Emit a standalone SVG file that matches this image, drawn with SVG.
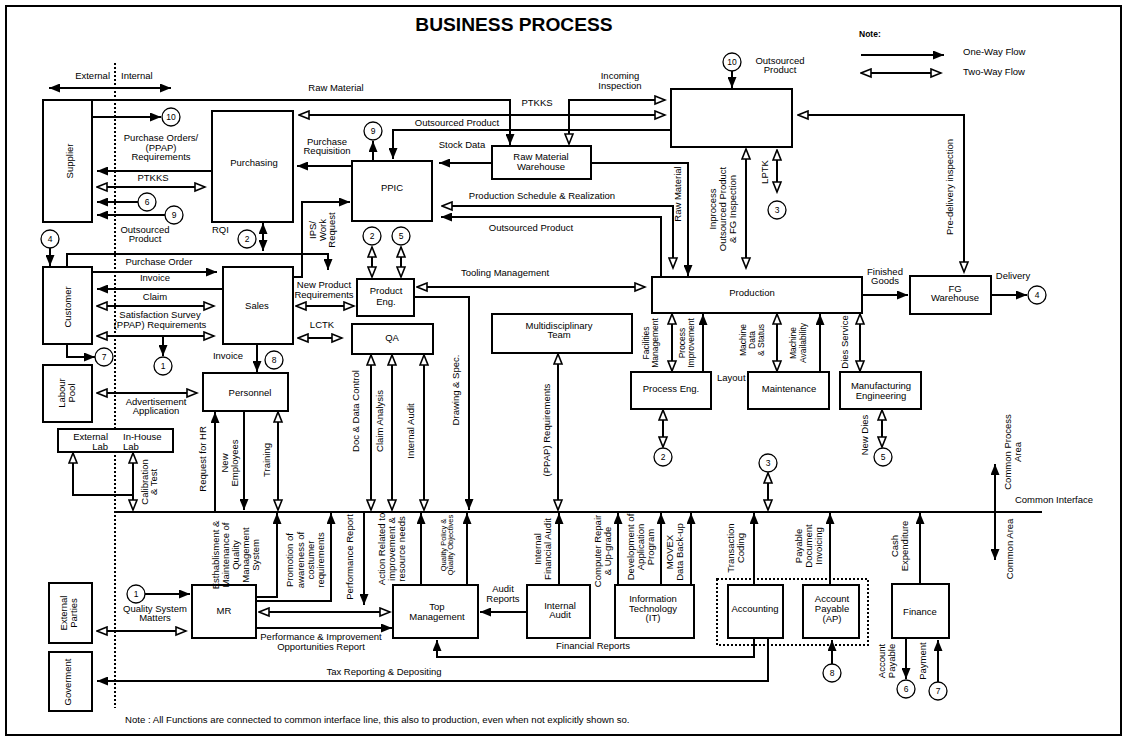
<svg xmlns="http://www.w3.org/2000/svg" width="1128" height="736" viewBox="0 0 1128 736">
<style>
.box{fill:#fff;stroke:#000;stroke-width:2}
.ln{fill:none;stroke:#000;stroke-width:2}
.cir{fill:#fff;stroke:#000;stroke-width:1.3}
.t{font-family:"Liberation Sans",Arial,sans-serif;font-size:9.5px;text-anchor:middle;fill:#000}
.ts{font-family:"Liberation Sans",Arial,sans-serif;font-size:8.5px;text-anchor:middle;fill:#000}
.tq{font-family:"Liberation Sans",Arial,sans-serif;font-size:7.5px;text-anchor:middle;fill:#000}
.tl{text-anchor:start}
.tr{text-anchor:end}
.ct{font-family:"Liberation Sans",Arial,sans-serif;font-size:8.5px;text-anchor:middle}
.f{marker-end:url(#af)}
.o{marker-start:url(#ao);marker-end:url(#ao)}
.ff{marker-start:url(#af);marker-end:url(#af)}
</style>
<defs>
<marker id="af" viewBox="0 0 11 9" refX="11" refY="4.5" markerWidth="11" markerHeight="9" orient="auto-start-reverse" markerUnits="userSpaceOnUse"><path d="M0,0 L11,4.5 L0,9 z" fill="#000"/></marker>
<marker id="ao" viewBox="-1 -1 13 11" refX="10.5" refY="4.5" markerWidth="13" markerHeight="11" orient="auto-start-reverse" markerUnits="userSpaceOnUse"><path d="M0.5,0.5 L10.5,4.5 L0.5,8.5 z" fill="#fff" stroke="#000" stroke-width="1.6"/></marker>
</defs>
<rect x="0" y="0" width="1128" height="736" fill="#fff"/>
<rect x="6" y="6" width="1115" height="729" fill="none" stroke="#000" stroke-width="2"/>
<text x="514" y="31" style="font-family:'Liberation Sans',Arial,sans-serif;font-size:19.2px;font-weight:bold;text-anchor:middle">BUSINESS PROCESS</text>

<g id="legend">
<text x="859" y="37" style="font-family:'Liberation Sans',Arial,sans-serif;font-size:8.5px;font-weight:bold">Note:</text>
<path class="ln f" d="M861,55 H944"/>
<path class="ln o" d="M861,73 H941"/>
<text class="t tl" x="963" y="55">One-Way Flow</text>
<text class="t tl" x="963" y="75">Two-Way Flow</text>
</g>

<path d="M115,63 V708" fill="none" stroke="#000" stroke-width="2" stroke-dasharray="2,2"/>
<rect x="717" y="579" width="151" height="66" fill="none" stroke="#000" stroke-width="2" stroke-dasharray="2,2"/>

<g id="nodes">
<g id="inspection"><rect class="box" x="671" y="89" width="121" height="58"/></g>
<g id="supplier"><rect class="box" x="43" y="100" width="49" height="122"/><text class="t" transform="translate(73.3,161) rotate(-90)">Supplier</text></g>
<g id="purchasing"><rect class="box" x="212" y="111" width="81" height="111"/><text class="t" x="254" y="166">Purchasing</text></g>
<g id="ppic"><rect class="box" x="352" y="161" width="80" height="60"/><text class="t" x="392" y="191">PPIC</text></g>
<g id="rmw"><rect class="box" x="492" y="146" width="99" height="33"/><text class="t" x="541" y="160">Raw Material</text><text class="t" x="541" y="170">Warehouse</text></g>
<g id="customer"><rect class="box" x="43" y="267" width="49" height="77"/><text class="t" transform="translate(71.3,307) rotate(-90)">Customer</text></g>
<g id="sales"><rect class="box" x="223" y="267" width="70" height="77"/><text class="t" x="257" y="309">Sales</text></g>
<g id="producteng"><rect class="box" x="357" y="279" width="57" height="37"/><text class="t" x="386" y="294">Product</text><text class="t" x="386" y="304.5">Eng.</text></g>
<g id="qa"><rect class="box" x="352" y="324" width="81" height="30"/><text class="t" x="392" y="341">QA</text></g>
<g id="production"><rect class="box" x="652" y="277" width="210" height="36"/><text class="t" x="752" y="296">Production</text></g>
<g id="fgwarehouse"><rect class="box" x="910" y="276" width="81" height="38"/><text class="t" x="955" y="292">FG</text><text class="t" x="955" y="301">Warehouse</text></g>
<g id="multidisciplinary"><rect class="box" x="492" y="314" width="140" height="39"/><text class="t" x="559" y="329">Multidisciplinary</text><text class="t" x="559" y="338">Team</text></g>
<g id="processeng"><rect class="box" x="631" y="372" width="80" height="37"/><text class="t" x="671" y="392">Process Eng.</text></g>
<g id="maintenance"><rect class="box" x="748" y="372" width="81" height="37"/><text class="t" x="789" y="392">Maintenance</text></g>
<g id="mfgeng"><rect class="box" x="840" y="372" width="81" height="37"/><text class="t" x="881" y="389">Manufacturing</text><text class="t" x="881" y="399">Engineering</text></g>
<g id="labourpool"><rect class="box" x="43" y="365" width="49" height="57"/><text class="t" transform="translate(65.3,393) rotate(-90)"><tspan x="0" y="0">Labour</tspan><tspan x="0" y="10">Pool</tspan></text></g>
<g id="personnel"><rect class="box" x="203" y="373" width="85" height="38"/><text class="t" x="250" y="396">Personnel</text></g>
<g id="lab"><rect class="box" x="58" y="429" width="115" height="23"/><text class="t tr" x="108" y="440">External</text><text class="t tr" x="108" y="450">Lab</text><text class="t tl" x="123" y="440">In-House</text><text class="t tl" x="123" y="450">Lab</text></g>
<g id="externalparties"><rect class="box" x="49" y="583" width="43" height="60"/><text class="t" transform="translate(67.3,613) rotate(-90)"><tspan x="0" y="0">External</tspan><tspan x="0" y="10">Parties</tspan></text></g>
<g id="goverment"><rect class="box" x="49" y="652" width="43" height="59"/><text class="t" transform="translate(71.3,682) rotate(-90)">Goverment</text></g>
<g id="mr"><rect class="box" x="192" y="585" width="64" height="53"/><text class="t" x="224" y="614">MR</text></g>
<g id="topmgmt"><rect class="box" x="393" y="585" width="85" height="53"/><text class="t" x="437" y="610">Top</text><text class="t" x="437" y="619.5">Management</text></g>
<g id="internalaudit"><rect class="box" x="527" y="585" width="63" height="53"/><text class="t" x="560" y="609">Internal</text><text class="t" x="560" y="618">Audit</text></g>
<g id="it"><rect class="box" x="615" y="585" width="79" height="53"/><text class="t" x="653" y="602">Information</text><text class="t" x="653" y="612">Technology</text><text class="t" x="653" y="621">(IT)</text></g>
<g id="accounting"><rect class="box" x="728" y="585" width="55" height="53"/><text class="t" x="755" y="612">Accounting</text></g>
<g id="ap"><rect class="box" x="803" y="585" width="56" height="53"/><text class="t" x="832" y="602">Account</text><text class="t" x="832" y="612">Payable</text><text class="t" x="832" y="622">(AP)</text></g>
<g id="finance"><rect class="box" x="892" y="584" width="57" height="54"/><text class="t" x="920" y="615">Finance</text></g>
</g>

<g id="connectors">
<path class="ln ff" d="M49,88 H171"/>
<path class="ln f" d="M92,100 H510 V145"/>
<path class="ln f" d="M92,117 H161"/>
<path class="ln f" d="M212,171 H97"/>
<path class="ln o" d="M97,187 H205"/>
<path class="ln f" d="M138,202 H97"/>
<path class="ln f" d="M165,215 H97"/>
<path class="ln o" d="M299,115 H665"/>
<path class="ln o" d="M569,144 V100 H665"/>
<path class="ln f" d="M671,130 H393 V159"/>
<path class="ln f" d="M732,71 V88"/>
<path class="ln o" d="M777,150 V192"/>
<path class="ln o" d="M746,149 V268"/>
<path class="ln o" d="M964,272 V115 H798"/>
<path class="ln f" d="M591,163 H688 V276"/>
<path class="ln o" d="M442,206 H673 V268"/>
<path class="ln f" d="M661,277 V217 H441"/>
<path class="ln f" d="M492,163 H439"/>
<path class="ln f" d="M373,161 V141"/>
<path class="ln f" d="M352,166 H297"/>
<path class="ln f" d="M293,277 H302 V202 H350"/>
<path class="ln ff" d="M263,223 V251"/>
<path class="ln o" d="M372,247 V277"/>
<path class="ln o" d="M401,247 V277"/>
<path class="ln f" d="M67,267 V254 H328 V270"/>
<path class="ln f" d="M50,248 V266"/>
<path class="ln f" d="M92,272 H217"/>
<path class="ln f" d="M223,289 H97"/>
<path class="ln o" d="M97,306 H214"/>
<path class="ln o" d="M97,336 H214"/>
<path class="ln f" d="M163,336 V356"/>
<path class="ln f" d="M67,344 V357 H95"/>
<path class="ln o" d="M296,306 H354"/>
<path class="ln o" d="M298,338 H342"/>
<path class="ln f" d="M257,344 V372"/>
<path class="ln o" d="M97,393 H197"/>
<path class="ln o" d="M133,453 V510"/>
<path class="ln" d="M73,453 V495 H133" style="marker-start:url(#ao)"/>
<path class="ln" d="M115,512 H1042"/>
<path class="ln ff" d="M995,464 V560"/>
<path class="ln f" d="M215,512 V412"/>
<path class="ln f" d="M244,411 V510"/>
<path class="ln o" d="M278,412 V510"/>
<path class="ln o" d="M371,355 V510"/>
<path class="ln o" d="M392,355 V510"/>
<path class="ln o" d="M424,355 V510"/>
<path class="ln f" d="M414,297 H469 V510"/>
<path class="ln o" d="M558,354 V510"/>
<path class="ln o" d="M417,287 H645"/>
<path class="ln o" d="M672,314 V371"/>
<path class="ln f" d="M703,372 V314"/>
<path class="ln o" d="M777,314 V371"/>
<path class="ln f" d="M820,372 V314"/>
<path class="ln o" d="M860,314 V371"/>
<path class="ln o" d="M663,410 V447"/>
<path class="ln o" d="M882,410 V447"/>
<path class="ln o" d="M768,473 V510"/>
<path class="ln f" d="M862,295 H908"/>
<path class="ln f" d="M991,295 H1027"/>
<path class="ln f" d="M145,594 H190"/>
<path class="ln o" d="M97,631 H186"/>
<path class="ln f" d="M256,597 H277 V513"/>
<path class="ln f" d="M256,601 H331 V513"/>
<path class="ln f" d="M364,512 V605"/>
<path class="ln o" d="M259,612 H390"/>
<path class="ln f" d="M256,628 H392"/>
<path class="ln f" d="M421,585 V513"/>
<path class="ln f" d="M467,585 V513"/>
<path class="ln f" d="M527,612 H480"/>
<path class="ln f" d="M559,585 V513"/>
<path class="ln f" d="M618,585 V513"/>
<path class="ln f" d="M661,585 V513"/>
<path class="ln f" d="M691,585 V513"/>
<path class="ln f" d="M754,585 V513"/>
<path class="ln f" d="M830,585 V513"/>
<path class="ln f" d="M920,584 V513"/>
<path class="ln f" d="M906,638 V679"/>
<path class="ln f" d="M938,682 V640"/>
<path class="ln f" d="M832,664 V640"/>
<path class="ln f" d="M754,638 V657 H437 V640"/>
<path class="ln f" d="M768,638 V681 H97"/>
</g>

<g id="circles">
<g><circle class="cir" cx="171" cy="117" r="9"/><text class="ct" x="171" y="120">10</text></g>
<g><circle class="cir" cx="732" cy="62" r="9"/><text class="ct" x="732" y="65">10</text></g>
<g><circle class="cir" cx="373" cy="131" r="9"/><text class="ct" x="373" y="134">9</text></g>
<g><circle class="cir" cx="174" cy="215" r="9"/><text class="ct" x="174" y="218">9</text></g>
<g><circle class="cir" cx="147" cy="202" r="9"/><text class="ct" x="147" y="205">6</text></g>
<g><circle class="cir" cx="906" cy="689" r="9"/><text class="ct" x="906" y="692">6</text></g>
<g><circle class="cir" cx="247" cy="239" r="9"/><text class="ct" x="247" y="242">2</text></g>
<g><circle class="cir" cx="372" cy="236" r="9"/><text class="ct" x="372" y="239">2</text></g>
<g><circle class="cir" cx="663" cy="457" r="9"/><text class="ct" x="663" y="460">2</text></g>
<g><circle class="cir" cx="401" cy="236" r="9"/><text class="ct" x="401" y="239">5</text></g>
<g><circle class="cir" cx="883" cy="457" r="9"/><text class="ct" x="883" y="460">5</text></g>
<g><circle class="cir" cx="50" cy="239" r="9"/><text class="ct" x="50" y="242">4</text></g>
<g><circle class="cir" cx="1037" cy="295" r="9"/><text class="ct" x="1037" y="298">4</text></g>
<g><circle class="cir" cx="163" cy="366" r="9"/><text class="ct" x="163" y="369">1</text></g>
<g><circle class="cir" cx="136" cy="594" r="9"/><text class="ct" x="136" y="597">1</text></g>
<g><circle class="cir" cx="104" cy="357" r="9"/><text class="ct" x="104" y="360">7</text></g>
<g><circle class="cir" cx="938" cy="691" r="9"/><text class="ct" x="938" y="694">7</text></g>
<g><circle class="cir" cx="274" cy="360" r="9"/><text class="ct" x="274" y="363">8</text></g>
<g><circle class="cir" cx="832" cy="673" r="9"/><text class="ct" x="832" y="676">8</text></g>
<g><circle class="cir" cx="777" cy="210" r="9"/><text class="ct" x="777" y="213">3</text></g>
<g><circle class="cir" cx="768" cy="463" r="9"/><text class="ct" x="768" y="466">3</text></g>
</g>

<g id="labels">
<text class="t" x="780" y="64">Outsourced</text><text class="t" x="780" y="73">Product</text>
<text class="t tr" x="110" y="79">External</text><text class="t tl" x="121" y="79">Internal</text>
<text class="t" x="336" y="91">Raw Material</text>
<text class="t" x="620" y="79">Incoming</text><text class="t" x="620" y="89">Inspection</text>
<text class="t" x="537" y="106">PTKKS</text>
<text class="t" x="457" y="126">Outsourced Product</text>
<text class="t" x="161" y="141">Purchase Orders/</text><text class="t" x="161" y="150.5">(PPAP)</text><text class="t" x="161" y="160">Requirements</text>
<text class="t" x="327" y="145">Purchase</text><text class="t" x="327" y="154">Requisition</text>
<text class="t" x="462" y="148">Stock Data</text>
<text class="t" x="542" y="199">Production Schedule &amp; Realization</text>
<text class="t" x="531" y="231">Outsourced Product</text>
<text class="t" x="153" y="181">PTKKS</text>
<text class="t" x="145" y="233">Outsourced</text><text class="t" x="145" y="242">Product</text>
<text class="t tl" x="212" y="233">RQI</text>
<text class="t" x="159" y="265">Purchase Order</text>
<text class="t" x="155" y="281">Invoice</text>
<text class="t" x="155" y="300">Claim</text>
<text class="t" x="160" y="318">Satisfaction Survey</text><text class="t" x="160" y="328">(PPAP) Requirements</text>
<text class="t" x="324" y="288">New Product</text><text class="t" x="324" y="298">Requirements</text>
<text class="t" x="322" y="328">LCTK</text>
<text class="t" x="505" y="276">Tooling Management</text>
<text class="t" x="885" y="275">Finished</text><text class="t" x="885" y="284">Goods</text>
<text class="t" x="1013" y="279">Delivery</text>
<text class="t" x="228" y="359">Invoice</text>
<text class="t" x="156" y="405">Advertisement</text><text class="t" x="156" y="414">Application</text>
<text class="t tl" x="717" y="381">Layout</text>
<text class="t" x="1054" y="503">Common Interface</text>
<text class="t" x="155" y="612">Quality System</text><text class="t" x="155" y="621">Matters</text>
<text class="t" x="321" y="640">Performance &amp; Improvement</text><text class="t" x="321" y="650">Opportunities Report</text>
<text class="t" x="503" y="592">Audit</text><text class="t" x="503" y="602">Reports</text>
<text class="t" x="593" y="649">Financial Reports</text>
<text class="t" x="384" y="675">Tax Reporting &amp; Depositing</text>
<text class="t tl" x="125" y="723" style="font-size:9.6px">Note : All Functions are connected to common interface line, this also to production, even when not explicitly shown so.</text>

<text class="t" transform="translate(768.3,172) rotate(-90)">LPTK</text>
<text class="t" transform="translate(716.3,209) rotate(-90)"><tspan x="0" y="0">Inprocess</tspan><tspan x="0" y="10">Outsourced Product</tspan><tspan x="0" y="20">&amp; FG Inspection</tspan></text>
<text class="t" transform="translate(681.3,194) rotate(-90)">Raw Material</text>
<text class="t" transform="translate(953.3,187) rotate(-90)">Pre-delivery inspection</text>
<text class="t" transform="translate(316.3,230) rotate(-90)"><tspan x="0" y="0">IPS/</tspan><tspan x="0" y="9.5">Work</tspan><tspan x="0" y="19">Request</tspan></text>
<text class="t" transform="translate(148.3,482) rotate(-90)"><tspan x="0" y="0">Calibration</tspan><tspan x="0" y="9">&amp; Test</tspan></text>
<text class="t" transform="translate(206.3,459) rotate(-90)">Request for HR</text>
<text class="t" transform="translate(228.3,463) rotate(-90)"><tspan x="0" y="0">New</tspan><tspan x="0" y="9.5">Employees</tspan></text>
<text class="t" transform="translate(270.3,460) rotate(-90)">Training</text>
<text class="t" transform="translate(359.3,411) rotate(-90)">Doc &amp; Data Control</text>
<text class="t" transform="translate(383.3,421) rotate(-90)">Claim Analysis</text>
<text class="t" transform="translate(414.3,431) rotate(-90)">Internal Audit</text>
<text class="t" transform="translate(459.3,390) rotate(-90)">Drawing &amp; Spec.</text>
<text class="t" transform="translate(550.3,430) rotate(-90)">(PPAP) Requirements</text>
<text class="ts" transform="translate(649,343) rotate(-90)"><tspan x="0" y="0">Facilities</tspan><tspan x="0" y="8.5">Management</tspan></text>
<text class="ts" transform="translate(685,343) rotate(-90)"><tspan x="0" y="0">Process</tspan><tspan x="0" y="8.5">Improvement</tspan></text>
<text class="ts" transform="translate(746,340) rotate(-90)"><tspan x="0" y="0">Machine</tspan><tspan x="0" y="9">Data</tspan><tspan x="0" y="18">&amp; Status</tspan></text>
<text class="ts" transform="translate(796,343) rotate(-90)"><tspan x="0" y="0">Machine</tspan><tspan x="0" y="9.5">Availability</tspan></text>
<text class="t" transform="translate(848.3,342) rotate(-90)">Dies Service</text>
<text class="t" transform="translate(868.3,435) rotate(-90)">New Dies</text>
<text class="t" transform="translate(1011.3,452) rotate(-90)"><tspan x="0" y="0">Common Process</tspan><tspan x="0" y="10">Area</tspan></text>
<text class="t" transform="translate(1013.3,549) rotate(-90)">Common Area</text>
<text class="t" transform="translate(219.3,555) rotate(-90)"><tspan x="0" y="0">Esthablisment &amp;</tspan><tspan x="0" y="10">Maintenance of</tspan><tspan x="0" y="20">Quality</tspan><tspan x="0" y="30">Management</tspan><tspan x="0" y="40">System</tspan></text>
<text class="t" transform="translate(293.3,560) rotate(-90)"><tspan x="0" y="0">Promotion of</tspan><tspan x="0" y="10.3">awareness of</tspan><tspan x="0" y="20.6">costumer</tspan><tspan x="0" y="31">requirements</tspan></text>
<text class="t" transform="translate(353.3,557) rotate(-90)">Performance Report</text>
<text class="t" transform="translate(385.3,549) rotate(-90)"><tspan x="0" y="0">Action Related to</tspan><tspan x="0" y="10">improvement &amp;</tspan><tspan x="0" y="20">resource needs</tspan></text>
<text class="tq" transform="translate(445.6,545) rotate(-90)"><tspan x="0" y="0">Quality Policy &amp;</tspan><tspan x="0" y="7.5">Quality Objectives</tspan></text>
<text class="t" transform="translate(541.3,549) rotate(-90)"><tspan x="0" y="0">Internal</tspan><tspan x="0" y="10">Financial Audit</tspan></text>
<text class="t" transform="translate(601.3,551) rotate(-90)"><tspan x="0" y="0">Computer Repair</tspan><tspan x="0" y="10">&amp; Up-grade</tspan></text>
<text class="t" transform="translate(634.3,547) rotate(-90)"><tspan x="0" y="0">Development of</tspan><tspan x="0" y="10">Application</tspan><tspan x="0" y="20">Program</tspan></text>
<text class="t" transform="translate(673.3,552) rotate(-90)"><tspan x="0" y="0">MOVEX</tspan><tspan x="0" y="10">Data Back-up</tspan></text>
<text class="t" transform="translate(734.3,548) rotate(-90)"><tspan x="0" y="0">Transaction</tspan><tspan x="0" y="10">Coding</tspan></text>
<text class="t" transform="translate(802.3,546) rotate(-90)"><tspan x="0" y="0">Payable</tspan><tspan x="0" y="10">Document</tspan><tspan x="0" y="20">Invoicing</tspan></text>
<text class="t" transform="translate(898.3,546) rotate(-90)"><tspan x="0" y="0">Cash</tspan><tspan x="0" y="9.5">Expenditure</tspan></text>
<text class="t" transform="translate(885.3,661) rotate(-90)"><tspan x="0" y="0">Account</tspan><tspan x="0" y="9.5">Payable</tspan></text>
<text class="t" transform="translate(926.3,661) rotate(-90)">Payment</text>
</g>
</svg>
